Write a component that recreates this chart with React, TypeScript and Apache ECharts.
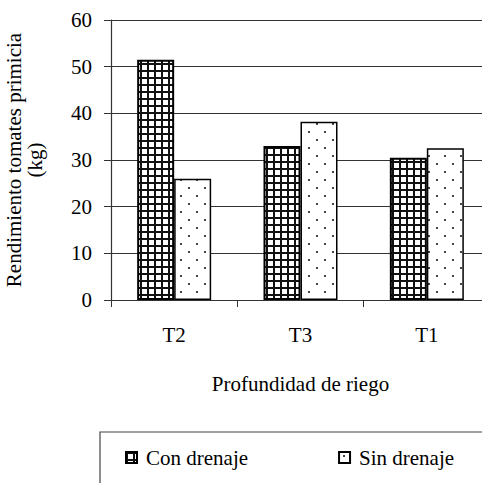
import React, { useEffect, useRef } from "react";
import * as echarts from "echarts";

const categories = ["T2", "T3", "T1"];
const conDrenaje = [51.5, 33, 30.5];
const sinDrenaje = [26, 38.2, 32.5];
const seriesNames = ["Con drenaje", "Sin drenaje"];
const yTicks = { min: 0, max: 60, interval: 10 };

function gridPattern() {
  const c = document.createElement("canvas");
  c.width = 7;
  c.height = 7;
  const ctx = c.getContext("2d")!;
  ctx.fillStyle = "#fff";
  ctx.fillRect(0, 0, 7, 7);
  ctx.fillStyle = "#111";
  ctx.fillRect(0, 0, 7, 2);
  ctx.fillRect(0, 0, 2, 7);
  return c;
}

function dotPattern() {
  const c = document.createElement("canvas");
  c.width = 16;
  c.height = 16;
  const ctx = c.getContext("2d")!;
  ctx.fillStyle = "#fff";
  ctx.fillRect(0, 0, 16, 16);
  ctx.fillStyle = "#444";
  ctx.fillRect(4, 3, 2, 2);
  ctx.fillRect(12, 11, 2, 2);
  return c;
}

export default function App() {
  const ref = useRef<HTMLDivElement>(null);
  useEffect(() => {
    const chart = echarts.init(ref.current!, null, { renderer: "svg" });
    const font = "Times New Roman, Liberation Serif, serif";
    const fs = 21;
    chart.setOption({
      animation: false,
      backgroundColor: "#fff",
      textStyle: { fontFamily: font, color: "#000" },
      grid: { left: 111, right: -8, top: 20, bottom: 183, containLabel: false, outerBoundsMode: "none" },
      legend: {
        left: 125,
        top: 447,
        padding: 0,
        itemWidth: 11,
        itemHeight: 11,
        itemGap: 90,
        icon: "rect",
        textStyle: { fontFamily: font, fontSize: fs, color: "#000", padding: [0, 0, 0, 4] },
        data: seriesNames,
      },
      graphic: [
        {
          type: "rect",
          shape: { x: 100, y: 432, width: 420, height: 120 },
          style: { fill: "none", stroke: "#444", lineWidth: 1.2 },
          z: -1,
        },
      ],
      xAxis: {
        type: "category",
        data: categories,
        name: "Profundidad de riego",
        nameLocation: "middle",
        nameGap: 73,
        nameTextStyle: { fontFamily: font, fontSize: fs, color: "#000" },
        axisLine: { lineStyle: { color: "#333", width: 1.2 } },
        axisTick: { show: true, length: 7, inside: false, lineStyle: { color: "#333" } },
        axisLabel: { margin: 24, fontFamily: font, fontSize: fs, color: "#000" },
      },
      yAxis: {
        type: "value",
        min: yTicks.min,
        max: yTicks.max,
        interval: yTicks.interval,
        name: "Rendimiento tomates primicia\n(kg)",
        nameLocation: "middle",
        nameRotate: 90,
        nameGap: 66,
        nameTextStyle: { fontFamily: font, fontSize: fs, color: "#000", lineHeight: 21 },
        axisLine: { show: true, lineStyle: { color: "#333", width: 1.2 } },
        axisTick: { show: true, length: 7, lineStyle: { color: "#333" } },
        axisLabel: { margin: 19, fontFamily: font, fontSize: fs, color: "#000" },
        splitLine: { show: true, lineStyle: { color: "#333", width: 1 } },
      },
      series: [
        {
          name: seriesNames[0],
          type: "bar",
          data: conDrenaje,
          barWidth: 37,
          barGap: "0%",
          itemStyle: {
            color: { image: gridPattern(), repeat: "repeat" },
            borderColor: "#000",
            borderWidth: 2,
          },
        },
        {
          name: seriesNames[1],
          type: "bar",
          data: sinDrenaje,
          barWidth: 37,
          itemStyle: {
            color: { image: dotPattern(), repeat: "repeat" },
            borderColor: "#000",
            borderWidth: 1.5,
          },
        },
      ],
    });
    return () => chart.dispose();
  }, []);
  return (
    <div
      ref={ref}
      style={{ position: "absolute", left: 0, top: 0, width: 482, height: 483 }}
    />
  );
}
